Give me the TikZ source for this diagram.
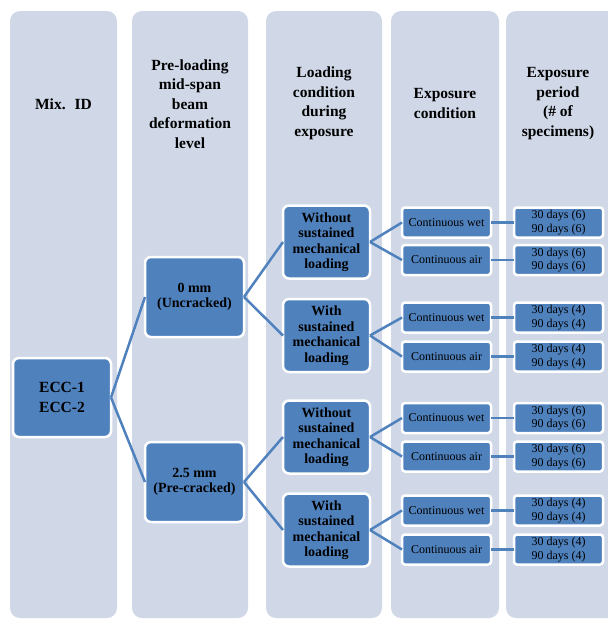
\documentclass[tikz,border=0pt]{standalone}
\usepackage{fontspec}
\setmainfont{Liberation Serif}
\usepackage{tikz}
\definecolor{colbg}{RGB}{208,216,232}
\definecolor{boxblue}{RGB}{79,129,189}
\newcommand{\headfont}{\fontsize{15.5}{19.5}\selectfont\bfseries}

\begin{document}
\begin{tikzpicture}[x=1pt, y=-1pt,
    colbox/.style={fill=colbg, rounded corners=10pt},
    head/.style={align=center, font=\headfont},
    box/.style={draw=white, line width=2.5pt, fill=boxblue, rounded corners=6pt,
                align=center, inner sep=1pt, outer sep=0pt},
    bigbox/.style={box, minimum width=99pt, minimum height=80pt,
                   font=\fontsize{14}{15}\selectfont\bfseries},
    loadbox/.style={box, minimum width=87pt, minimum height=73pt,
                    font=\fontsize{14}{15.5}\selectfont\bfseries},
    smallbox/.style={box, rounded corners=3pt, minimum width=89pt, minimum height=30pt,
                     font=\fontsize{12}{13.5}\selectfont},
    link/.style={draw=boxblue, line width=2.5pt}]
    \useasboundingbox (0,0) rectangle (608,619);

    % Column backgrounds
    \begin{scope}
        \clip (0,0) rectangle (608,619);
        \foreach \xa/\xb in {10/117, 132/248, 266/382, 391/499, 506/625} {
            \fill[colbox] (\xa,11) rectangle (\xb,618);
        }
    \end{scope}

    % Column headers
    \node[head] (hmix) at (63.5,104) {Mix.~ ID};
    \node[head] (hpre) at (190,104) {Pre-loading\\mid-span\\beam\\deformation\\level};
    \node[head] (hload) at (324,103.5) {Loading\\condition\\during\\exposure};
    \node[head] (hcond) at (445,103.5) {Exposure\\condition};
    \node[head] (hper) at (558,103.5) {Exposure\\period\\(\# of\\specimens)};

    % Mix and pre-loading level
    \node[box, minimum width=98pt, minimum height=79pt,
          font=\fontsize{15.5}{20}\selectfont\bfseries] (ecc) at (62,397.5) {ECC-1\\ECC-2};
    \node[bigbox] (mm0) at (194.5,297) {0 mm\\(Uncracked)};
    \node[bigbox] (mm25) at (194.5,482) {2.5 mm\\(Pre-cracked)};
    \draw[link] (ecc.east) -- (mm0.west);
    \draw[link] (ecc.east) -- (mm25.west);

    % Loading condition
    \foreach \i/\y/\t in {1/242/Without, 2/335.5/With, 3/437/Without, 4/530/With} {
        \node[loadbox] (load\i) at (326.5,\y) {\t\\sustained\\mechanical\\loading};
    }
    \draw[link] (mm0.east) -- (load1.west);
    \draw[link] (mm0.east) -- (load2.west);
    \draw[link] (mm25.east) -- (load3.west);
    \draw[link] (mm25.east) -- (load4.west);

    % Exposure condition and period
    \foreach \i/\y/\c/\n in {1/222.5/wet/6, 2/260/air/6, 3/317.5/wet/4, 4/356.5/air/4,
                             5/418/wet/6, 6/456.5/air/6, 7/510.5/wet/4, 8/549.5/air/4} {
        \node[smallbox] (cond\i) at (446.5,\y) {Continuous \c};
        \node[smallbox] (per\i) at (558.5,\y) {30 days (\n)\\90 days (\n)};
        \draw[link] (cond\i.east) -- (per\i.west);
        \pgfmathtruncatemacro{\p}{(\i+1)/2}
        \draw[link] (load\p.east) -- (cond\i.west);
    }

\end{tikzpicture}
\end{document}
